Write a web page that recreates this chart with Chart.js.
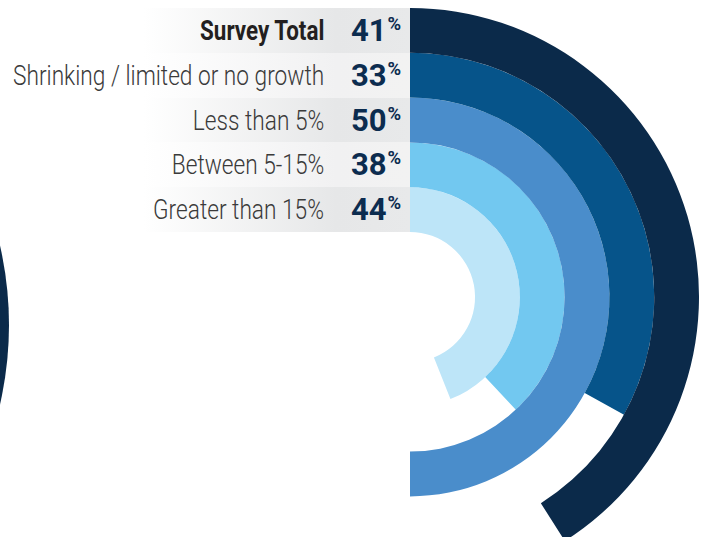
<!DOCTYPE html>
<html>
<head>
<meta charset="utf-8">
<script src="https://cdn.jsdelivr.net/npm/chart.js@4.4.1/dist/chart.umd.min.js"></script>
<style>
    html, body {
        margin: 0;
        padding: 0;
        width: 701px;
        height: 537px;
        overflow: hidden;
        background: #ffffff;
        font-family: Roboto, 'Noto Sans', sans-serif;
    }
    #wrap {
        position: relative;
        width: 701px;
        height: 537px;
        overflow: hidden;
    }
    /* edge of the neighbouring ring, only a sliver shows at the left */
    #side-arc {
        position: absolute;
        left: -701px;
        top: -30px;
        width: 710px;
        height: 710px;
        border-radius: 50%;
        background: #0b2a4a;
    }
    #chart-box {
        position: absolute;
        left: 121px;
        top: 8px;
        width: 578px;
        height: 578px;
    }
    .row {
        position: absolute;
        left: 0;
        width: 410px;
        height: 45px;
    }
    .row.dark {
        background: linear-gradient(to right, #ffffff 35%, #e6e7e8 82%, #e8e9ea 100%);
    }
    .row.light {
        background: linear-gradient(to right, #ffffff 35%, #f1f1f2 82%, #f2f2f2 100%);
    }
    .label {
        position: absolute;
        right: 86px;
        top: 0;
        line-height: 45px;
        font-size: 28px;
        font-weight: 300;
        color: #3a3a3a;
        white-space: nowrap;
        transform: scaleX(0.81);
        transform-origin: right center;
    }
    .label.total {
        font-weight: 700;
        color: #231f20;
        transform: scaleX(0.8);
    }
    .value {
        position: absolute;
        left: 351px;
        top: 0;
        line-height: 45px;
        font-size: 32px;
        font-weight: 700;
        color: #0c2c4f;
        white-space: nowrap;
        transform: scaleX(0.97);
        transform-origin: left center;
    }
    .value sup {
        font-size: 19px;
        vertical-align: top;
        position: relative;
        top: -7px;
        margin-left: 1px;
    }
</style>
</head>
<body>
<div id="wrap">
    <div id="side-arc"></div>
    <div id="rows"></div>
    <div id="chart-box"><canvas id="myChart"></canvas></div>
</div>
<script>
// rows from the outermost ring inwards
const categories = [
    'Survey Total',
    'Shrinking / limited or no growth',
    'Less than 5%',
    'Between 5-15%',
    'Greater than 15%'
];

const values = [41, 33, 50, 38, 44];

const colors = ['#0b2a4a', '#06548a', '#4a8dcb', '#72c8f0', '#bde5f8'];

// label rows on the left, one per ring
const rows = document.getElementById('rows');
categories.forEach(function (name, i) {
    const row = document.createElement('div');
    row.className = 'row ' + (i % 2 === 0 ? 'dark' : 'light');
    row.style.top = (8 + i * 44.8) + 'px';

    const label = document.createElement('span');
    label.className = i === 0 ? 'label total' : 'label';
    label.textContent = name;

    const value = document.createElement('span');
    value.className = 'value';
    value.innerHTML = values[i] + '<sup>%</sup>';

    row.appendChild(label);
    row.appendChild(value);
    rows.appendChild(row);
});

// each ring is its own dataset: the filled part plus an invisible remainder
const datasets = values.map(function (v, i) {
    return {
        label: categories[i],
        data: [v, 100 - v],
        backgroundColor: [colors[i], 'rgba(0,0,0,0)'],
        borderWidth: 0,
        hoverOffset: 0
    };
});

const config = {
    type: 'doughnut',
    data: {
        labels: ['yes', 'rest'],
        datasets: datasets
    },
    options: {
        responsive: true,
        maintainAspectRatio: false,
        animation: false,
        cutout: '22.5%',
        rotation: 0,
        circumference: 360,
        layout: { padding: 0 },
        events: [],
        plugins: {
            legend: { display: false },
            tooltip: { enabled: false }
        }
    }
};

const myChart = new Chart(document.getElementById('myChart'), config);
</script>
</body>
</html>
